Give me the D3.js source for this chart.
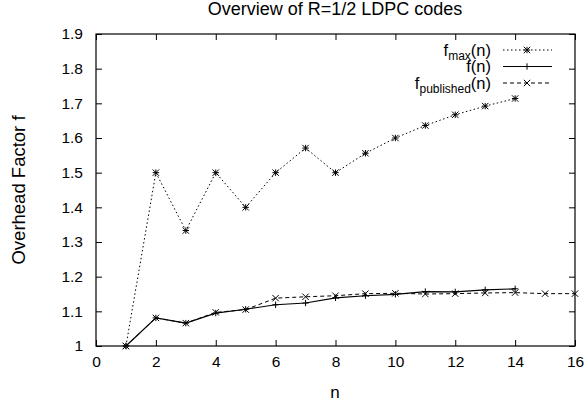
<!DOCTYPE html>
<html>
<head>
<meta charset="utf-8">
<script src="https://cdn.jsdelivr.net/npm/d3@7"></script>
<style>
  body { margin: 0; background: #fff; }
  svg { display: block; font-family: "Liberation Sans", Arial, sans-serif; }
</style>
</head>
<body>
<svg id="chart" width="587" height="407"></svg>
<script>
// values
var nMax = [1, 2, 3, 4, 5, 6, 7, 8, 9, 10, 11, 12, 13, 14];
var fMax = [1.0, 1.5, 1.333, 1.5, 1.4, 1.5, 1.571, 1.5, 1.556, 1.6, 1.636, 1.667, 1.692, 1.714];
var nF = [1, 2, 3, 4, 5, 6, 7, 8, 9, 10, 11, 12, 13, 14];
var fN = [1.0, 1.081, 1.066, 1.095, 1.106, 1.119, 1.124, 1.139, 1.145, 1.149, 1.157, 1.156, 1.162, 1.165];
var nPub = [1, 2, 3, 4, 5, 6, 7, 8, 9, 10, 11, 12, 13, 14, 15, 16];
var fPub = [1.0, 1.081, 1.066, 1.097, 1.105, 1.138, 1.142, 1.145, 1.151, 1.152, 1.150, 1.151, 1.153, 1.154, 1.151, 1.151];
var xTicks = [0, 2, 4, 6, 8, 10, 12, 14, 16];
var yTicks = [1, 1.1, 1.2, 1.3, 1.4, 1.5, 1.6, 1.7, 1.8, 1.9];

var svg = d3.select('#chart');
var plotL = 96, plotR = 575, plotT = 34, plotB = 346;

var x = d3.scaleLinear().domain([0, 16]).range([plotL, plotR]);
var y = d3.scaleLinear().domain([1, 1.9]).range([plotB, plotT]);

// axes with inward ticks, mirrored on all sides
var tl = 6;
svg.append('g').attr('transform', 'translate(0,' + plotB + ')')
  .call(d3.axisBottom(x).tickValues(xTicks).tickSizeInner(-tl).tickSizeOuter(0).tickPadding(10).tickFormat(d3.format('d')));
svg.append('g').attr('transform', 'translate(0,' + plotT + ')')
  .call(d3.axisTop(x).tickValues(xTicks).tickSizeInner(-tl).tickSizeOuter(0).tickFormat(''));
svg.append('g').attr('transform', 'translate(' + plotL + ',0)')
  .call(d3.axisLeft(y).tickValues(yTicks).tickSizeInner(-tl).tickSizeOuter(0).tickPadding(13).tickFormat(function(d) { return String(+d.toFixed(1)); }));
svg.append('g').attr('transform', 'translate(' + plotR + ',0)')
  .call(d3.axisRight(y).tickValues(yTicks).tickSizeInner(-tl).tickSizeOuter(0).tickFormat(''));

svg.selectAll('.domain').remove();
svg.selectAll('.tick line').attr('stroke', '#000');
svg.selectAll('.tick text').attr('font-size', 15.5).attr('fill', '#000')
  .attr('font-family', '"Liberation Sans", Arial, sans-serif');

svg.append('rect').attr('x', plotL).attr('y', plotT)
  .attr('width', plotR - plotL).attr('height', plotB - plotT)
  .attr('fill', 'none').attr('stroke', '#000').attr('stroke-width', 1.2);

// titles
svg.append('text').attr('x', 335).attr('y', 15).attr('text-anchor', 'middle')
  .attr('font-size', 18).text('Overview of R=1/2 LDPC codes');
svg.append('text').attr('x', 335).attr('y', 398).attr('text-anchor', 'middle')
  .attr('font-size', 17).text('n');
svg.append('text').attr('transform', 'translate(25,190) rotate(-90)').attr('text-anchor', 'middle')
  .attr('font-size', 18.5).text('Overhead Factor f');

// markers
function mark(g, kind, cx, cy) {
  var s = 3.2, p = [];
  if (kind === 'plus' || kind === 'star') p.push([cx - s, cy, cx + s, cy], [cx, cy - s, cx, cy + s]);
  if (kind === 'cross' || kind === 'star') p.push([cx - s, cy - s, cx + s, cy + s], [cx - s, cy + s, cx + s, cy - s]);
  p.forEach(function(l) {
    g.append('line').attr('x1', l[0]).attr('y1', l[1]).attr('x2', l[2]).attr('y2', l[3])
      .attr('stroke', '#000').attr('stroke-width', 1);
  });
}

var series = [
  { xs: nMax, ys: fMax, dash: '1.5,2.5', kind: 'star', width: 1 },
  { xs: nF, ys: fN, dash: null, kind: 'plus', width: 1.2 },
  { xs: nPub, ys: fPub, dash: '4,3', kind: 'cross', width: 1 }
];

var line = d3.line().x(function(d) { return x(d[0]); }).y(function(d) { return y(d[1]); });

series.forEach(function(s) {
  var pts = d3.zip(s.xs, s.ys);
  svg.append('path').datum(pts).attr('d', line).attr('fill', 'none')
    .attr('stroke', '#000').attr('stroke-width', s.width)
    .attr('stroke-dasharray', s.dash);
  var g = svg.append('g');
  pts.forEach(function(p) { mark(g, s.kind, x(p[0]), y(p[1])); });
});

// legend
var legend = [
  { base: 'f', sub: 'max', rest: '(n)' },
  { base: 'f(n)', sub: '', rest: '' },
  { base: 'f', sub: 'published', rest: '(n)' }
];
legend.forEach(function(l, i) {
  var ly = 50 + i * 16.5;
  var t = svg.append('text').attr('x', 491).attr('y', ly + 5.5).attr('text-anchor', 'end').attr('font-size', 16.5);
  t.append('tspan').text(l.base);
  if (l.sub) {
    t.append('tspan').attr('font-size', 12).attr('dy', 4).text(l.sub);
    t.append('tspan').attr('dy', -4).text(l.rest);
  }
  var s = series[i];
  svg.append('line').attr('x1', 503).attr('x2', 552).attr('y1', ly).attr('y2', ly)
    .attr('stroke', '#000').attr('stroke-width', s.width).attr('stroke-dasharray', s.dash);
  mark(svg.append('g'), s.kind, 527, ly);
});
</script>
</body>
</html>
